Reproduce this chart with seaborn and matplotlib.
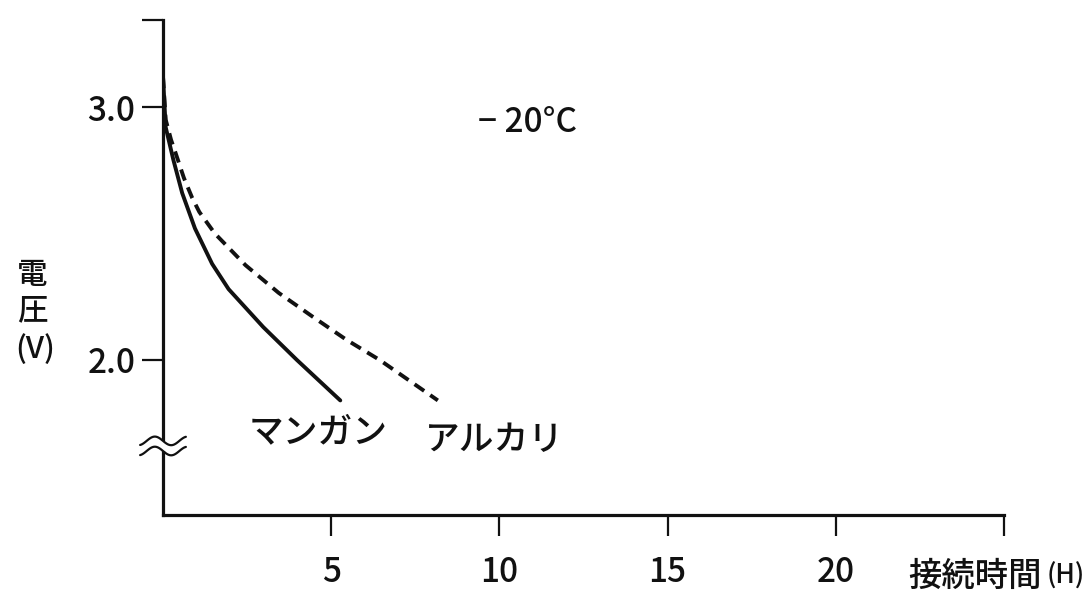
import matplotlib
matplotlib.use("Agg")
import matplotlib.pyplot as plt
import matplotlib.patches as mpatches
import numpy as np
import pandas as pd
import seaborn as sns

# データ
hours_mn = [0, 0.08, 0.31, 0.57, 0.95, 1.46, 1.95, 2.98, 3.98, 5.27]
volts_mn = [3.12, 2.92, 2.79, 2.66, 2.52, 2.38, 2.28, 2.13, 2.00, 1.84]
hours_al = [0, 0.08, 0.24, 0.37, 0.62, 0.87, 1.08, 1.54, 2.45, 3.44, 4.46, 5.45, 6.44, 8.17]
volts_al = [3.12, 2.95, 2.87, 2.82, 2.72, 2.64, 2.585, 2.50, 2.375, 2.265, 2.17, 2.08, 2.00, 1.84]

x_ticks = [5, 10, 15, 20, 25]
x_ticklabels = ['5', '10', '15', '20', '']
y_top = 3.344
y_ticks = [2.0, 3.0, y_top]
y_ticklabels = ['2.0', '3.0', '']
y_break = [1.680, 1.640]

df = pd.concat([
	pd.DataFrame({'時間': hours_mn, '電圧': volts_mn, '種類': 'マンガン'}),
	pd.DataFrame({'時間': hours_al, '電圧': volts_al, '種類': 'アルカリ'}),
], ignore_index=True)

sns.set_theme(style="white")
plt.rcParams['font.family'] = ['Noto Sans CJK JP', 'DejaVu Sans']
plt.rcParams['font.weight'] = 'medium'

ink = '#111111'
fig = plt.figure(figsize=(10.89, 5.94), dpi=100)
ax = fig.add_axes([163 / 1089, 1 - 515 / 594, 841 / 1089, 495 / 594])

sns.lineplot(data=df, x='時間', y='電圧', style='種類', color=ink,
	dashes={'マンガン': '', 'アルカリ': (3, 1.9)}, linewidth=2.8,
	legend=False, ax=ax, sort=False)

ax.set_xlim(0, 25)
ax.set_ylim(1.387, y_top)
ax.set_xlabel('')
ax.set_ylabel('')

for s in ['top', 'right']:
	ax.spines[s].set_visible(False)
for s in ['left', 'bottom']:
	ax.spines[s].set_linewidth(2.3)
	ax.spines[s].set_color(ink)

ax.set_xticks(x_ticks)
ax.set_xticklabels(x_ticklabels)
ax.set_yticks(y_ticks)
ax.set_yticklabels(y_ticklabels)
ax.tick_params(axis='both', which='major', direction='out', length=15, width=1.6,
	color=ink, labelsize=24, labelcolor=ink, bottom=True, left=True)
ax.tick_params(axis='x', pad=14)
ax.tick_params(axis='y', pad=5)

# 軸の省略記号 (≈)
ax.add_patch(mpatches.Rectangle((-0.3, y_break[1]), 0.6, y_break[0] - y_break[1],
	facecolor='white', edgecolor='none', clip_on=False, zorder=5))
t = np.linspace(-0.4 * np.pi, 2.4 * np.pi, 60)
wx = np.linspace(-0.68, 0.68, 60)
for yb in y_break:
	ax.plot(wx, yb + 0.017 * np.sin(t), color=ink, lw=1.6, clip_on=False, zorder=6)

# 注記
ax.text(10.85, 2.94, '− 20°C', fontsize=24, ha='center', va='center', color=ink)
ax.text(4.6, 1.715, 'マンガン', fontsize=25, ha='center', va='center', color=ink)
ax.text(9.85, 1.684, 'アルカリ', fontsize=25, ha='center', va='center', color=ink)

# 軸ラベル
fig.text(32 / 1089, 1 - 275 / 594, '電', fontsize=22, ha='center', va='center', color=ink)
fig.text(32 / 1089, 1 - 311 / 594, '圧', fontsize=22, ha='center', va='center', color=ink)
fig.text(35 / 1089, 1 - 349 / 594, '(V)', fontsize=22, ha='center', va='center', color=ink)
fig.text(975 / 1089, 1 - 576 / 594, '接続時間', fontsize=24, ha='center', va='center', color=ink)
fig.text(1066 / 1089, 1 - 576 / 594, '(H)', fontsize=19, ha='center', va='center', color=ink)

fig.savefig('out.png', dpi=100)
